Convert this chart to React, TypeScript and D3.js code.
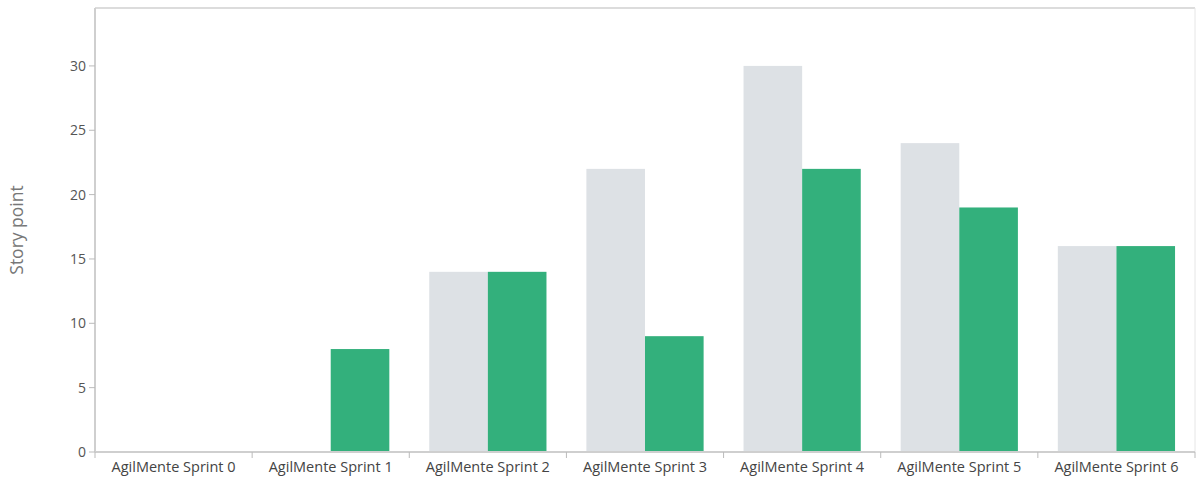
import React from "react";
import * as d3 from "d3";

const categories = [
  "AgilMente Sprint 0",
  "AgilMente Sprint 1",
  "AgilMente Sprint 2",
  "AgilMente Sprint 3",
  "AgilMente Sprint 4",
  "AgilMente Sprint 5",
  "AgilMente Sprint 6",
];
const committed = [0, 0, 14, 22, 30, 24, 16];
const completed = [0, 8, 14, 9, 22, 19, 16];
const yTicks = [0, 5, 10, 15, 20, 25, 30];
const yTitle = "Story point";

const W = 1196;
const H = 479;
const left = 95;
const right = 1195;
const top = 8;
const bottom = 452;

export default function App() {
  const x = d3.scaleBand<string>().domain(categories).range([left, right]).paddingInner(0).paddingOuter(0);
  const y = d3.scaleLinear().domain([0, 34.5]).range([bottom, top]);
  const font = "'Open Sans', 'Noto Sans', sans-serif";
  const bw = x.bandwidth();
  const pad = bw * 0.127;
  const barW = (bw - 2 * pad) / 2;
  return (
    <svg width={W} height={H} style={{ position: "absolute", left: 0, top: 0 }}>
      <rect x={0} y={0} width={W} height={H} fill="#fff" />
      {/* frame */}
      <line x1={left} x2={right} y1={top} y2={top} stroke="#dcdcdc" strokeWidth={2} />
      <line x1={right} x2={right} y1={top} y2={bottom} stroke="#e6e6e6" strokeWidth={1} />
      {/* bars */}
      {categories.map((c, i) => {
        const x0 = (x(c) as number) + pad;
        return (
          <g key={c}>
            {committed[i] > 0 && (
              <rect x={x0} y={y(committed[i])} width={barW} height={bottom - y(committed[i])} fill="#dde1e5" />
            )}
            {completed[i] > 0 && (
              <rect x={x0 + barW} y={y(completed[i])} width={barW} height={bottom - y(completed[i])} fill="#33b07c" />
            )}
          </g>
        );
      })}
      {/* y axis */}
      <line x1={left} x2={left} y1={top} y2={bottom} stroke="#cfcfcf" strokeWidth={2} />
      {yTicks.map((t) => (
        <g key={t}>
          <line x1={left - 6} x2={left} y1={y(t)} y2={y(t)} stroke="#bbb" />
          <text x={left - 9} y={y(t)} dy="0.35em" textAnchor="end" fontSize={14} fill="#555" fontFamily={font}>
            {t}
          </text>
        </g>
      ))}
      <text
        transform={`translate(23,${(top + bottom) / 2}) rotate(-90)`}
        textAnchor="middle"
        fontSize={17.5}
        fill="#777"
        fontFamily={font}
      >
        {yTitle}
      </text>
      {/* x axis */}
      <line x1={left} x2={right} y1={bottom} y2={bottom} stroke="#cfcfcf" strokeWidth={2} />
      {categories.map((c, i) => (
        <g key={c}>
          <line x1={x(c) as number} x2={x(c) as number} y1={bottom} y2={bottom + 6} stroke="#bbb" />
          <text x={(x(c) as number) + bw / 2} y={bottom + 20} textAnchor="middle" fontSize={14.5} fill="#444" fontFamily={font}>
            {c}
          </text>
        </g>
      ))}
      <line x1={right} x2={right} y1={bottom} y2={bottom + 6} stroke="#bbb" />
    </svg>
  );
}
